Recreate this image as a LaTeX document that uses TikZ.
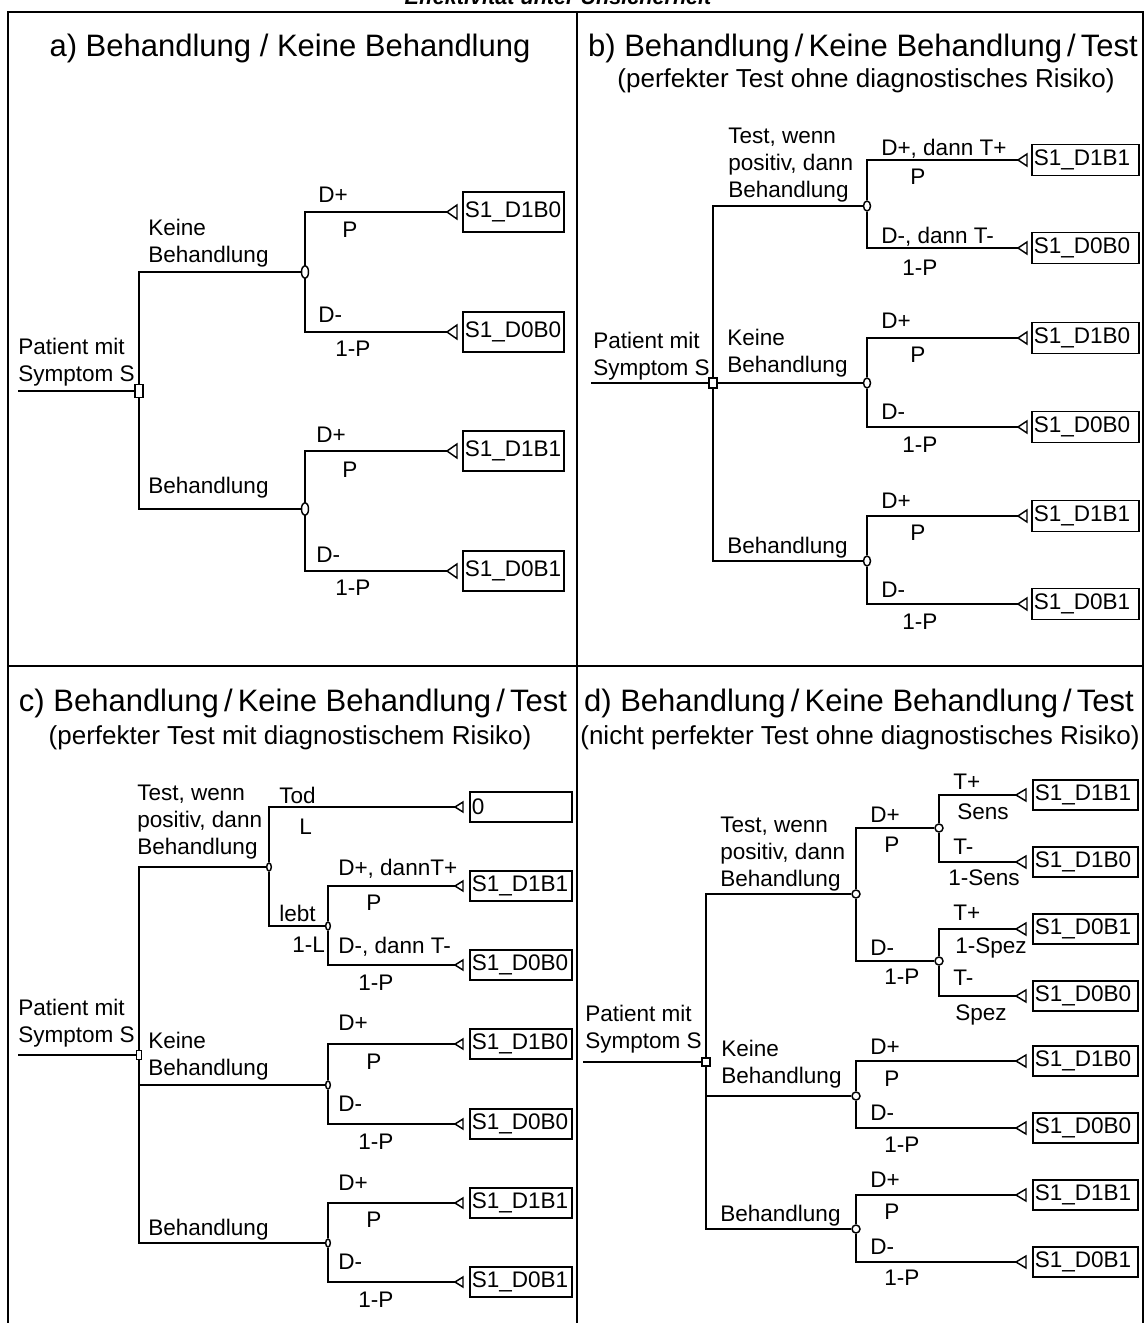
\documentclass[tikz,border=0pt]{standalone}
\usepackage{fontspec}
\setmainfont{Liberation Sans}
\usetikzlibrary{shapes.geometric}
\newcommand\bodysz{\fontsize{16.9pt}{20.25pt}\selectfont}
% terminal: apex coordinate, outline triangle, outcome box
% #1 name, #2 apex x, #3 y, #4 box style, #5 text
\newcommand\termnode[5]{%
  \coordinate (#1) at (#2,#3);
  \draw[tri] (#1) -- ++(\trilen,-\trihh) -- ++(0,2*\trihh) -- cycle;
  \node[#4] (#1b) at (\boxleft,#3) {#5};
}
\begin{document}
\begin{tikzpicture}[x=0.75pt,y=-0.75pt,
  frame/.style={line width=2pt},
  br/.style={line width=1.5pt},
  brthin/.style={line width=1.1pt},
  tri/.style={line width=1.1pt},
  lbl/.style={anchor=north west,inner sep=0pt,align=left,font=\bodysz},
  ttl/.style={anchor=base,inner sep=0pt,font=\fontsize{23.25pt}{27pt}\selectfont},
  subttl/.style={anchor=base,inner sep=0pt,font=\fontsize{19.5pt}{23pt}\selectfont},
  termbox/.style n args={2}{draw,line width=1.2pt,anchor=west,inner xsep=1.5pt,inner ysep=0pt,
     text width=#1,minimum height=#2,align=left,font=\bodysz},
  boxA/.style={termbox={72.75pt}{30pt}},
  boxB/.style={termbox={77.25pt}{23.25pt}},
  boxC/.style={termbox={73.5pt}{22.5pt}},
  boxD/.style={termbox={75.75pt}{22.5pt}},
  decn/.style n args={2}{draw,fill=white,rectangle,inner sep=0pt,line width=1.1pt,minimum width=#1,minimum height=#2},
  chn/.style n args={2}{draw,fill=white,ellipse,inner sep=0pt,line width=1.1pt,minimum width=#1,minimum height=#2},
]
\useasboundingbox (0,0) rectangle (1145,1323);
\clip (0,0) rectangle (1145,1323);
\fill[white] (0,0) rectangle (1145,1323);

% heading above the frame
\node[anchor=base,inner sep=0pt,font=\bfseries\itshape\fontsize{16.2pt}{18pt}\selectfont] (hdr) at (558,5) {Effektivität unter Unsicherheit};

% frame with four panels
\draw[frame] (8,1340) -- (8,12) -- (1143,12) -- (1143,1340);
\draw[frame] (577,12) -- (577,1340);
\draw[frame] (8,666) -- (1143,666);

% ---------------- panel a ----------------
\node[ttl] (aTitle) at (290,57) {a) Behandlung / Keine Behandlung};
\coordinate (aRoot) at (18,391);
\node[decn={6pt}{9.75pt}] (aDec) at (139,391) {};
\node[chn={5.25pt}{9.75pt}] (aCh1) at (305,272) {};
\node[chn={5.25pt}{9.75pt}] (aCh2) at (305,509) {};
\def\trilen{10}\def\trihh{7}\def\boxleft{462}
\termnode{aT1}{447}{212}{boxA}{S1\_D1B0}
\termnode{aT2}{447}{332}{boxA}{S1\_D0B0}
\termnode{aT3}{447}{451}{boxA}{S1\_D1B1}
\termnode{aT4}{447}{571}{boxA}{S1\_D0B1}
\draw[br] (aRoot) -- (aDec);
\draw[br] (aDec) |- (aCh1);
\draw[br] (aDec) |- (aCh2);
\draw[br] (aCh1) |- (aT1);
\draw[br] (aCh1) |- (aT2);
\draw[br] (aCh2) |- (aT3);
\draw[br] (aCh2) |- (aT4);
\node[lbl] (aPat) at (18,338) {Patient mit\\Symptom S};
\node[lbl] (aKb) at (148,219) {Keine\\Behandlung};
\node[lbl] (aB) at (148,477) {Behandlung};
\node[lbl] (aL1) at (318,187) {D+};
\node[lbl] (aL2) at (342,222) {P};
\node[lbl] (aL3) at (318,307) {D-};
\node[lbl] (aL4) at (335,341) {1-P};
\node[lbl] (aL5) at (316,427) {D+};
\node[lbl] (aL6) at (342,462) {P};
\node[lbl] (aL7) at (316,547) {D-};
\node[lbl] (aL8) at (335,580) {1-P};

% ---------------- panel b ----------------
\node[ttl] (bTitle) at (863,57) {b) Behandlung\,/\,Keine Behandlung\,/\,Test};
\node[subttl] (bSub) at (866,88) {(perfekter Test ohne diagnostisches Risiko)};
\coordinate (bRoot) at (591,383);
\node[decn={6pt}{7.5pt}] (bDec) at (713,383) {};
\node[chn={5.25pt}{7.5pt}] (bCh1) at (867,206) {};
\node[chn={5.25pt}{7.5pt}] (bCh2) at (867,383) {};
\node[chn={5.25pt}{7.5pt}] (bCh3) at (867,561) {};
\def\trilen{9}\def\trihh{6}\def\boxleft{1031}
\termnode{bT1}{1018}{160}{boxB}{S1\_D1B1}
\termnode{bT2}{1018}{248}{boxB}{S1\_D0B0}
\termnode{bT3}{1018}{338}{boxB}{S1\_D1B0}
\termnode{bT4}{1018}{427}{boxB}{S1\_D0B0}
\termnode{bT5}{1018}{516}{boxB}{S1\_D1B1}
\termnode{bT6}{1018}{604}{boxB}{S1\_D0B1}
\draw[br] (bRoot) -- (bDec);
\draw[br] (bDec) |- (bCh1);
\draw[br] (bDec) -- (bCh2);
\draw[br] (bDec) |- (bCh3);
\draw[br] (bCh1) |- (bT1);
\draw[br] (bCh1) |- (bT2);
\draw[br] (bCh2) |- (bT3);
\draw[br] (bCh2) |- (bT4);
\draw[br] (bCh3) |- (bT5);
\draw[br] (bCh3) |- (bT6);
\node[lbl] (bPat) at (593,332) {Patient mit\\Symptom S};
\node[lbl] (bTest) at (728,128) {Test, wenn\\positiv, dann\\Behandlung};
\node[lbl] (bKb) at (727,329) {Keine\\Behandlung};
\node[lbl] (bB) at (727,537) {Behandlung};
\node[lbl] (bL1) at (881,139) {D+, dann T+};
\node[lbl] (bL2) at (910,169) {P};
\node[lbl] (bL3) at (881,227) {D-, dann T-};
\node[lbl] (bL4) at (902,260) {1-P};
\node[lbl] (bL5) at (881,313) {D+};
\node[lbl] (bL6) at (910,347) {P};
\node[lbl] (bL7) at (881,404) {D-};
\node[lbl] (bL8) at (902,437) {1-P};
\node[lbl] (bL9) at (881,493) {D+};
\node[lbl] (bL10) at (910,525) {P};
\node[lbl] (bL11) at (881,582) {D-};
\node[lbl] (bL12) at (902,614) {1-P};

% ---------------- panel c ----------------
\node[ttl] (cTitle) at (293,711) {c) Behandlung\,/\,Keine Behandlung\,/\,Test};
\node[subttl] (cSub) at (290,744) {(perfekter Test mit diagnostischem Risiko)};
\coordinate (cRoot) at (18,1055);
\node[decn={4pt}{6.75pt}] (cDec) at (139,1055) {};
\node[chn={3.5pt}{6pt}] (cCh1) at (269,867) {};
\node[chn={3.5pt}{6pt}] (cCh1b) at (328,926) {};
\node[chn={3.5pt}{6pt}] (cCh2) at (328,1085) {};
\node[chn={3.5pt}{6pt}] (cCh3) at (328,1243) {};
\def\trilen{8}\def\trihh{5}\def\boxleft{469}
\termnode{cT0}{455}{807}{boxC}{0}
\termnode{cT1}{455}{886}{boxC}{S1\_D1B1}
\termnode{cT2}{455}{965}{boxC}{S1\_D0B0}
\termnode{cT3}{455}{1044}{boxC}{S1\_D1B0}
\termnode{cT4}{455}{1124}{boxC}{S1\_D0B0}
\termnode{cT5}{455}{1203}{boxC}{S1\_D1B1}
\termnode{cT6}{455}{1282}{boxC}{S1\_D0B1}
\draw[brthin] (cRoot) -- (cDec);
\draw[brthin] (cDec) |- (cCh1);
\draw[brthin] (cDec) |- (cCh2);
\draw[brthin] (cDec) |- (cCh3);
\draw[brthin] (cCh1) |- (cT0);
\draw[brthin] (cCh1) |- (cCh1b);
\draw[brthin] (cCh1b) |- (cT1);
\draw[brthin] (cCh1b) |- (cT2);
\draw[brthin] (cCh2) |- (cT3);
\draw[brthin] (cCh2) |- (cT4);
\draw[brthin] (cCh3) |- (cT5);
\draw[brthin] (cCh3) |- (cT6);
\node[lbl] (cPat) at (18,999) {Patient mit\\Symptom S};
\node[lbl] (cTest) at (137,785) {Test, wenn\\positiv, dann\\Behandlung};
\node[lbl] (cKb) at (148,1032) {Keine\\Behandlung};
\node[lbl] (cB) at (148,1219) {Behandlung};
\node[lbl] (cL1) at (279,787) {Tod};
\node[lbl] (cL2) at (299,819) {L};
\node[lbl] (cL3) at (279,905) {lebt};
\node[lbl] (cL4) at (292,937) {1-L};
\node[lbl] (cL5) at (338,859) {D+, dannT+};
\node[lbl] (cL6) at (366,895) {P};
\node[lbl] (cL7) at (338,937) {D-, dann T-};
\node[lbl] (cL8) at (358,975) {1-P};
\node[lbl] (cL9) at (338,1015) {D+};
\node[lbl] (cL10) at (366,1054) {P};
\node[lbl] (cL11) at (338,1096) {D-};
\node[lbl] (cL12) at (358,1134) {1-P};
\node[lbl] (cL13) at (338,1175) {D+};
\node[lbl] (cL14) at (366,1212) {P};
\node[lbl] (cL15) at (338,1254) {D-};
\node[lbl] (cL16) at (358,1292) {1-P};

% ---------------- panel d ----------------
\node[ttl] (dTitle) at (859,711) {d) Behandlung\,/\,Keine Behandlung\,/\,Test};
\node[subttl] (dSub) at (860,744) {(nicht perfekter Test ohne diagnostisches Risiko)};
\coordinate (dRoot) at (583,1062);
\node[decn={6pt}{6pt}] (dDec) at (706,1062) {};
\node[chn={6pt}{6pt}] (dCh1) at (856,894) {};
\node[chn={6pt}{6pt}] (dCh1a) at (939,828) {};
\node[chn={6pt}{6pt}] (dCh1b) at (939,961) {};
\node[chn={6pt}{6pt}] (dCh2) at (856,1096) {};
\node[chn={6pt}{6pt}] (dCh3) at (856,1229) {};
\def\trilen{10}\def\trihh{6}\def\boxleft{1032}
\termnode{dT1}{1016}{795}{boxD}{S1\_D1B1}
\termnode{dT2}{1016}{862}{boxD}{S1\_D1B0}
\termnode{dT3}{1016}{929}{boxD}{S1\_D0B1}
\termnode{dT4}{1016}{996}{boxD}{S1\_D0B0}
\termnode{dT5}{1016}{1061}{boxD}{S1\_D1B0}
\termnode{dT6}{1016}{1128}{boxD}{S1\_D0B0}
\termnode{dT7}{1016}{1195}{boxD}{S1\_D1B1}
\termnode{dT8}{1016}{1262}{boxD}{S1\_D0B1}
\draw[br] (dRoot) -- (dDec);
\draw[br] (dDec) |- (dCh1);
\draw[br] (dDec) |- (dCh2);
\draw[br] (dDec) |- (dCh3);
\draw[br] (dCh1) |- (dCh1a);
\draw[br] (dCh1) |- (dCh1b);
\draw[br] (dCh1a) |- (dT1);
\draw[br] (dCh1a) |- (dT2);
\draw[br] (dCh1b) |- (dT3);
\draw[br] (dCh1b) |- (dT4);
\draw[br] (dCh2) |- (dT5);
\draw[br] (dCh2) |- (dT6);
\draw[br] (dCh3) |- (dT7);
\draw[br] (dCh3) |- (dT8);
\node[lbl] (dPat) at (585,1005) {Patient mit\\Symptom S};
\node[lbl] (dTest) at (720,817) {Test, wenn\\positiv, dann\\Behandlung};
\node[lbl] (dKb) at (721,1040) {Keine\\Behandlung};
\node[lbl] (dB) at (720,1205) {Behandlung};
\node[lbl] (dL1) at (870,807) {D+};
\node[lbl] (dL2) at (884,837) {P};
\node[lbl] (dL3) at (870,940) {D-};
\node[lbl] (dL4) at (884,969) {1-P};
\node[lbl] (dL5) at (953,774) {T+};
\node[lbl] (dL6) at (957,803) {Sens};
\node[lbl] (dL7) at (953,839) {T-};
\node[lbl] (dL8) at (948,869) {1-Sens};
\node[lbl] (dL9) at (953,905) {T+};
\node[lbl] (dL10) at (955,937) {1-Spez};
\node[lbl] (dL11) at (953,970) {T-};
\node[lbl] (dL12) at (955,1004) {Spez};
\node[lbl] (dL13) at (870,1039) {D+};
\node[lbl] (dL14) at (884,1071) {P};
\node[lbl] (dL15) at (870,1105) {D-};
\node[lbl] (dL16) at (884,1137) {1-P};
\node[lbl] (dL17) at (870,1172) {D+};
\node[lbl] (dL18) at (884,1204) {P};
\node[lbl] (dL19) at (870,1239) {D-};
\node[lbl] (dL20) at (884,1270) {1-P};
\end{tikzpicture}
\end{document}
